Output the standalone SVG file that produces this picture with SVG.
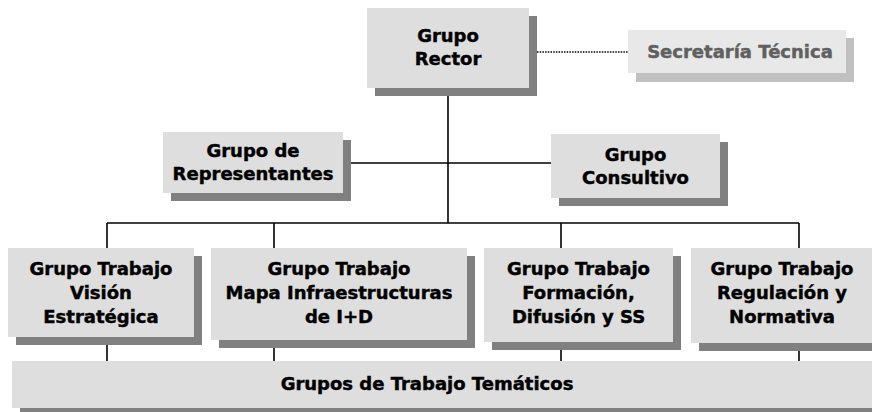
<svg xmlns="http://www.w3.org/2000/svg" width="872" height="412" viewBox="0 0 872 412">
<style>
.box{fill:#dedede}
.sh{fill:#808080}
.sbox{fill:#e8e8e8}
.ssh{fill:#c0c0c0}
text{font-family:"DejaVu Sans","Liberation Sans",sans-serif;font-weight:bold;font-size:18px;text-anchor:middle;fill:#000;stroke:#000;stroke-width:0.45}
.st{fill:#606060;stroke:#606060}
.ln{stroke:#000;stroke-width:1.6;fill:none}
.dot{stroke:#000;stroke-width:1.5;stroke-dasharray:1.5 1.2;fill:none}
</style>
<rect width="872" height="412" fill="#fff"/>
<g id="connectors">
<line class="ln" x1="448" y1="96" x2="448" y2="223"/>
<line class="ln" x1="351" y1="163" x2="551" y2="163"/>
<line class="ln" x1="107" y1="223" x2="799" y2="223"/>
<line class="ln" x1="107" y1="223" x2="107" y2="248"/>
<line class="ln" x1="274" y1="223" x2="274" y2="248"/>
<line class="ln" x1="561" y1="223" x2="561" y2="248"/>
<line class="ln" x1="799" y1="223" x2="799" y2="248"/>
<line class="ln" x1="107" y1="345" x2="107" y2="361"/>
<line class="ln" x1="274" y1="348" x2="274" y2="361"/>
<line class="ln" x1="561" y1="350" x2="561" y2="361"/>
<line class="ln" x1="799" y1="351" x2="799" y2="361"/>
<line class="dot" x1="537" y1="52" x2="628" y2="52"/>
</g>
<g id="rector">
<rect class="sh" x="375" y="16" width="162" height="80"/>
<rect class="box" x="367" y="8" width="162" height="80"/>
<text x="448" y="42">Grupo</text>
<text x="448" y="65">Rector</text>
</g>
<g id="secretaria">
<rect class="ssh" x="636" y="38" width="218" height="44"/>
<rect class="sbox" x="628" y="30" width="218" height="43"/>
<text class="st" x="740" y="58">Secretaría Técnica</text>
</g>
<g id="representantes">
<rect class="sh" x="171" y="140" width="180" height="61"/>
<rect class="box" x="163" y="132" width="180" height="61"/>
<text x="253" y="157">Grupo de</text>
<text x="253" y="180">Representantes</text>
</g>
<g id="consultivo">
<rect class="sh" x="559" y="142" width="169" height="64"/>
<rect class="box" x="551" y="134" width="169" height="64"/>
<text x="635.5" y="161">Grupo</text>
<text x="635.5" y="184">Consultivo</text>
</g>
<g id="gt-vision">
<rect class="sh" x="16" y="256" width="186" height="89"/>
<rect class="box" x="8" y="248" width="186" height="89"/>
<text x="101" y="275">Grupo Trabajo</text>
<text x="101" y="299">Visión</text>
<text x="101" y="323">Estratégica</text>
</g>
<g id="gt-mapa">
<rect class="sh" x="219" y="256" width="256" height="92"/>
<rect class="box" x="211" y="248" width="256" height="92"/>
<text x="339" y="275">Grupo Trabajo</text>
<text x="339" y="299">Mapa Infraestructuras</text>
<text x="339" y="323">de I+D</text>
</g>
<g id="gt-formacion">
<rect class="sh" x="492" y="256" width="189" height="94"/>
<rect class="box" x="484" y="248" width="189" height="94"/>
<text x="578.5" y="275">Grupo Trabajo</text>
<text x="578.5" y="299">Formación,</text>
<text x="578.5" y="323">Difusión y SS</text>
</g>
<g id="gt-regulacion">
<rect class="sh" x="699" y="256" width="190" height="95"/>
<rect class="box" x="691" y="248" width="190" height="95"/>
<text x="782" y="275">Grupo Trabajo</text>
<text x="782" y="299">Regulación y</text>
<text x="782" y="323">Normativa</text>
</g>
<g id="tematicos">
<rect class="sh" x="20" y="369" width="870" height="50"/>
<rect class="box" x="12" y="361" width="870" height="47"/>
<text x="427" y="390">Grupos de Trabajo Temáticos</text>
</g>
</svg>
